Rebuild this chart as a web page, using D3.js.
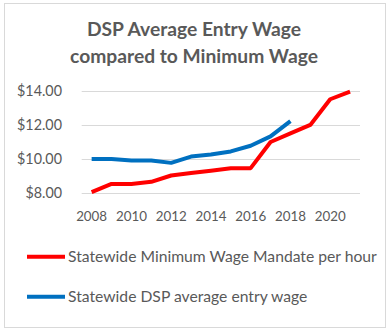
<!DOCTYPE html>
<html>
<head>
<meta charset="utf-8">
<script src="https://cdn.jsdelivr.net/npm/d3@7"></script>
<style>
  html, body { margin: 0; padding: 0; background: #fff; }
  svg { display: block; }
  text { font-family: Lato, "Open Sans", sans-serif; fill: #595959; }
</style>
</head>
<body>
<svg id="chart" width="391" height="333"></svg>
<script>
// Years on the category axis
const years = [2008, 2009, 2010, 2011, 2012, 2013, 2014, 2015, 2016, 2017, 2018, 2019, 2020, 2021];
// Statewide minimum wage mandate, dollars per hour
const minWage = [8.07, 8.55, 8.55, 8.67, 9.04, 9.19, 9.32, 9.47, 9.47, 11.00, 11.50, 12.00, 13.50, 13.95];
// Statewide DSP average entry wage (2008–2018)
const dspYears = [2008, 2009, 2010, 2011, 2012, 2013, 2014, 2015, 2016, 2017, 2018];
const dspWage = [10.00, 10.00, 9.92, 9.92, 9.78, 10.15, 10.27, 10.45, 10.78, 11.33, 12.22];
// Axis ticks
const yTicks = [8, 10, 12, 14];
const xTickYears = [2008, 2010, 2012, 2014, 2016, 2018, 2020];
const titleLines = ["DSP Average Entry Wage", "compared to Minimum Wage"];
const legendLabels = ["Statewide Minimum Wage Mandate per hour", "Statewide DSP average entry wage"];
const colors = ["#FF0000", "#0070C0"];

const svg = d3.select("#chart");

// Font size that makes a string span a given width
function fitSize(str, width, weight) {
  const t = svg.append("text").attr("font-size", 100).attr("font-weight", weight || "normal").text(str);
  const w = t.node().getComputedTextLength();
  t.remove();
  return 100 * width / w;
}

// Outer frame
svg.append("rect")
  .attr("x", 4.5).attr("y", 3.5).attr("width", 381).attr("height", 324)
  .attr("fill", "#fff").attr("stroke", "#D9D9D9").attr("stroke-width", 1);

// Title
const titleSize = fitSize(titleLines[1], 248, "bold");
svg.selectAll("text.title").data(titleLines).join("text")
  .attr("class", "title")
  .attr("x", 194).attr("y", (d, i) => 36 + i * 26.7)
  .attr("text-anchor", "middle")
  .attr("font-weight", "bold")
  .attr("font-size", titleSize)
  .text(d => d);

// Scales
const x = d3.scalePoint().domain(years).range([81.7, 360]).padding(0.5);
const y = d3.scaleLinear().domain([8, 14]).range([193.3, 90.7]);

// Gridlines
svg.append("g").selectAll("line").data(yTicks).join("line")
  .attr("x1", 81.7).attr("x2", 360)
  .attr("y1", d => Math.round(y(d)) + 0.5).attr("y2", d => Math.round(y(d)) + 0.5)
  .attr("stroke", "#D9D9D9").attr("stroke-width", 1);

// Y axis labels
const yFmt = d => "$" + d3.format(".2f")(d);
const ySize = fitSize(yFmt(14), 45);
svg.append("g").selectAll("text").data(yTicks).join("text")
  .attr("x", 62).attr("y", d => y(d))
  .attr("dy", "0.36em")
  .attr("text-anchor", "end")
  .attr("font-size", ySize)
  .text(yFmt);

// X axis labels
const xSize = fitSize("2008", 31);
svg.append("g").selectAll("text").data(xTickYears).join("text")
  .attr("x", d => x(d)).attr("y", 220.5)
  .attr("text-anchor", "middle")
  .attr("font-size", xSize)
  .text(d => d);

// Series lines
const line = d3.line().x(d => x(d[0])).y(d => y(d[1]));
const series = [
  d3.zip(years, minWage),
  d3.zip(dspYears, dspWage)
];
svg.append("g").selectAll("path").data(series).join("path")
  .attr("d", line)
  .attr("fill", "none")
  .attr("stroke", (d, i) => colors[i])
  .attr("stroke-width", 4)
  .attr("stroke-linejoin", "round");

// Legend
const legSize = fitSize(legendLabels[0], 309);
const leg = svg.append("g").selectAll("g").data(legendLabels).join("g")
  .attr("transform", (d, i) => `translate(0, ${256.7 + i * 40})`);
leg.append("line")
  .attr("x1", 27).attr("x2", 65).attr("y1", 0).attr("y2", 0)
  .attr("stroke", (d, i) => colors[i]).attr("stroke-width", 4);
leg.append("text")
  .attr("x", 68).attr("y", 0).attr("dy", "0.36em")
  .attr("font-size", legSize)
  .text(d => d);
</script>
</body>
</html>
